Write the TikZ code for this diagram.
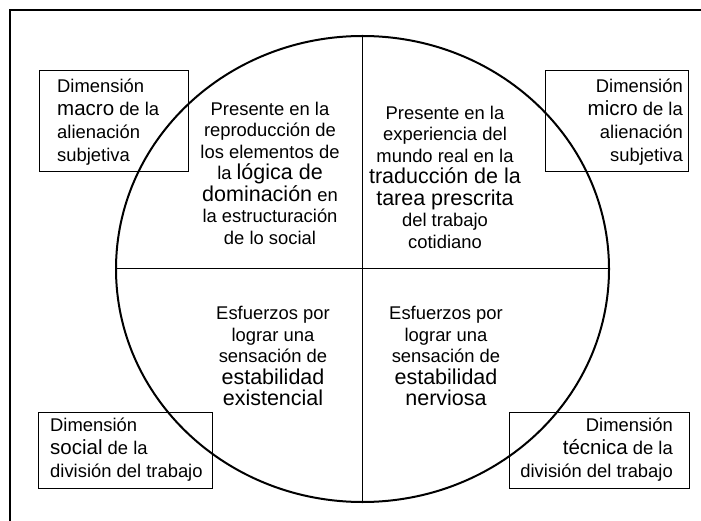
\documentclass[tikz,border=0pt]{standalone}
\usepackage{fontspec}
\setmainfont{Liberation Sans}
\usetikzlibrary{shapes.geometric}
\newcommand{\bigw}[1]{{\fontsize{21.5}{21.5}\selectfont #1}}
\newcommand{\bigb}[1]{{\fontsize{20.5}{20.5}\selectfont #1}}
\begin{document}
\begin{tikzpicture}[x=1pt,y=-1pt,
  framestyle/.style={line width=2pt},
  circstyle/.style={draw, ellipse, line width=2pt, inner sep=0pt, outer sep=0pt},
  divstyle/.style={line width=1pt},
  boxstyle/.style={draw, line width=0.9pt, inner sep=0pt, outer sep=0pt},
  ctext/.style={align=center, inner sep=0pt, font=\fontsize{18.4}{21.5}\selectfont},
  ltext/.style={align=left, inner sep=0pt, anchor=west, font=\fontsize{18.4}{23}\selectfont},
  rtext/.style={align=right, inner sep=0pt, anchor=east, font=\fontsize{18.4}{23}\selectfont}]
\useasboundingbox (0,0) rectangle (701,521);
% outer frame
\coordinate (fa) at (10,521);
\coordinate (fb) at (10,10);
\coordinate (fc) at (701,10);
\draw[framestyle] (fa) -- (fb) -- (fc);
% circle
\node[circstyle, minimum width=493pt, minimum height=466pt] (circ) at (362.5,269) {};
\draw[divstyle] (circ.north) -- (circ.south);
\draw[divstyle] (circ.west) -- (circ.east);
% corner boxes
\node[boxstyle, minimum width=149pt, minimum height=101pt] (tlbox) at (113.5,120.5) {};
\node[boxstyle, minimum width=143pt, minimum height=101pt] (trbox) at (616.5,120.5) {};
\node[boxstyle, minimum width=174pt, minimum height=76pt] (blbox) at (125,450) {};
\node[boxstyle, minimum width=180pt, minimum height=76pt] (brbox) at (599,450) {};
\node[ltext] (tltext) at ([xshift=18pt,yshift=-1.5pt]tlbox.west) {Dimensión\\\bigb{macro} de la\\alienación\\subjetiva};
\node[rtext] (trtext) at ([xshift=-5pt,yshift=-1.5pt]trbox.east) {Dimensión\\\bigb{micro} de la\\alienación\\subjetiva};
\node[ltext] (bltext) at ([xshift=12pt]blbox.west) {Dimensión\\\bigb{social} de la\\división del trabajo};
\node[rtext] (brtext) at ([xshift=-16pt]brbox.east) {Dimensión\\\bigb{técnica} de la\\división del trabajo};
% quadrant texts
\node[ctext] (tlq) at (270,173) {Presente en la\\reproducción de\\los elementos de\\la \bigw{lógica de}\\\bigw{dominación} en\\la estructuración\\de lo social};
\node[ctext] (trq) at (445,177) {Presente en la\\experiencia del\\mundo real en la\\\bigw{traducción de la}\\\bigw{tarea prescrita}\\del trabajo\\cotidiano};
\node[ctext] (blq) at (273,356) {Esfuerzos por\\lograr una\\sensación de\\\bigw{estabilidad}\\\bigw{existencial}};
\node[ctext] (brq) at (446,356) {Esfuerzos por\\lograr una\\sensación de\\\bigw{estabilidad}\\\bigw{nerviosa}};
\end{tikzpicture}
\end{document}
